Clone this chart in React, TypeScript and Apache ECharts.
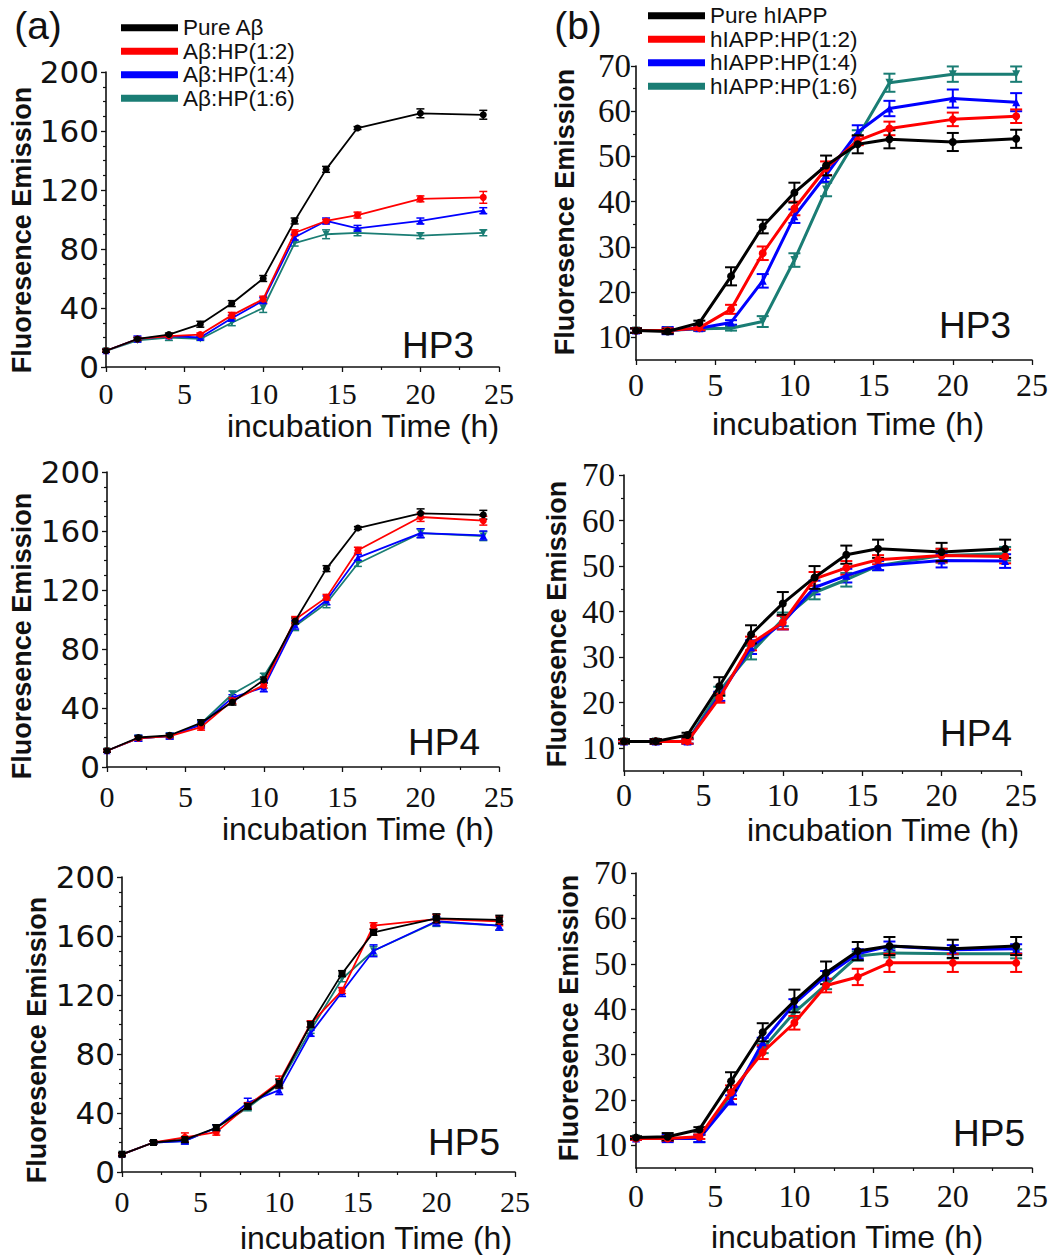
import React, { useEffect, useRef } from 'react';
import * as echarts from 'echarts';

// ---------- data ----------
const times = [0, 2, 4, 6, 8, 10, 12, 14, 16, 20, 24];
const abNames = ['Pure Aβ', 'Aβ:HP(1:2)', 'Aβ:HP(1:4)', 'Aβ:HP(1:6)'];
const iappNames = ['Pure hIAPP', 'hIAPP:HP(1:2)', 'hIAPP:HP(1:4)', 'hIAPP:HP(1:6)'];
const panelLabels = ['HP3', 'HP3', 'HP4', 'HP4', 'HP5', 'HP5'];
const abYTicks = [0, 40, 80, 120, 160, 200];
const iappYTicks = [10, 20, 30, 40, 50, 60, 70];
const iappYMinorTicks = [15, 25, 35, 45, 55, 65];

// (a) Aβ, HP3
const abHP3Pure = [11, 19, 22, 29, 43, 60, 99, 134, 162, 172, 171];
const abHP3R2 = [11, 19, 21, 22, 35, 46, 91, 99, 103, 114, 115];
const abHP3R4 = [11, 19, 21, 20, 33, 45, 88, 99, 94, 99, 106];
const abHP3R6 = [11, 18, 20, 19, 30, 40, 84, 90, 91, 89, 91];
const abHP3PureErr = [1, 1, 1, 2, 2, 2, 2, 2, 1, 3, 3];
const abHP3R2Err = [1, 1, 1, 1, 2, 2, 2, 1, 2, 2, 4];
const abHP3R4Err = [1, 2, 1, 1, 2, 2, 2, 2, 2, 2, 2];
const abHP3R6Err = [1, 1, 2, 1, 2, 3, 2, 3, 2, 2, 2];

// (b) hIAPP, HP3
const iappHP3Pure = [11.5, 11.3, 13.2, 23.5, 34.5, 42, 48, 52.7, 53.8, 53.2, 53.9];
const iappHP3R2 = [11.5, 11.5, 12.1, 16.2, 28.6, 38.5, 47.4, 53.5, 56.2, 58.2, 58.9];
const iappHP3R4 = [11.5, 11.5, 12, 13.3, 22.5, 36.8, 45.9, 55.4, 60.6, 62.8, 62];
const iappHP3R6 = [11.5, 11.5, 11.9, 12, 13.5, 27.1, 42.7, 54.3, 66.3, 68.2, 68.2];
const iappHP3PureErr = [0.5, 0.5, 0.5, 2, 1.5, 2.2, 2.2, 2, 2, 2, 2];
const iappHP3R2Err = [0.5, 0.5, 0.5, 1, 1.5, 1.5, 1.5, 1, 1.5, 1.5, 1.5];
const iappHP3R4Err = [0.5, 0.8, 0.5, 0.5, 1.5, 1.5, 1.5, 1.5, 1.7, 2, 2];
const iappHP3R6Err = [0.5, 0.5, 0.5, 0.5, 1.2, 1.5, 1.5, 1.5, 2, 1.7, 1.7];

// (a) Aβ, HP4
const abHP4Pure = [11, 20, 21.5, 30, 44, 59, 99, 134.5, 162, 172, 171];
const abHP4R2 = [11, 19.5, 21, 27, 45, 55.5, 100, 115, 147, 169.5, 167];
const abHP4R4 = [11, 19.5, 21, 28.5, 47, 54, 96.5, 113, 142, 158.5, 157];
const abHP4R6 = [11, 19.5, 21, 29.5, 49.5, 61.5, 95.5, 111, 138, 158.5, 156.5];
const abHP4PureErr = [1, 1, 1, 2, 2, 2, 2, 2, 1, 3, 3];
const abHP4R2Err = [1, 1, 1, 2, 2, 2, 2, 2, 2, 3, 3];
const abHP4R4Err = [1, 2, 2, 2, 2, 3, 3, 3, 2, 3, 3];
const abHP4R6Err = [1, 2, 2, 2, 2, 2, 3, 3, 2, 3, 3];

// (b) hIAPP, HP4
const iappHP4Pure = [11.5, 11.5, 12.9, 23.6, 35, 41.8, 47.5, 52.5, 53.8, 53.1, 53.8];
const iappHP4R2 = [11.5, 11.5, 11.5, 21, 33, 37.6, 47.2, 49.6, 51.4, 52.3, 52.1];
const iappHP4R4 = [11.5, 11.5, 11.5, 21.4, 32.2, 37.6, 45.3, 47.9, 50.1, 51.2, 51.1];
const iappHP4R6 = [11.5, 11.5, 11.5, 22.5, 31, 38.3, 44.2, 47, 50.1, 52.3, 52.7];
const iappHP4PureErr = [0.5, 0.5, 0.5, 2, 2, 2.5, 2.5, 2, 2, 2, 2];
const iappHP4R2Err = [0.3, 0.5, 0.5, 1, 1.5, 1.5, 1.5, 1.5, 1, 1.5, 1.5];
const iappHP4R4Err = [0.3, 0.5, 0.5, 1, 1.5, 1.5, 1.5, 1.5, 1, 1.5, 1.5];
const iappHP4R6Err = [0.3, 0.5, 0.5, 1, 1.5, 1.5, 1.5, 1.5, 1, 1.5, 1.5];

// (a) Aβ, HP5
const abHP5Pure = [12, 20, 22, 30, 44.5, 60, 100, 134.5, 162.5, 172, 171];
const abHP5R2 = [12, 20, 23.5, 27, 45, 61, 100.5, 123, 167, 171.5, 170];
const abHP5R4 = [12, 20, 21, 30, 47, 55.5, 94, 122, 150, 170, 167];
const abHP5R6 = [12, 20, 21, 30, 43.5, 59.5, 96, 131, 150, 169.5, 167];
const abHP5PureErr = [1, 1, 2, 2, 2, 3, 2, 2, 2, 3, 3];
const abHP5R2Err = [1, 1, 3, 2, 2, 4, 2, 2, 2, 3, 3];
const abHP5R4Err = [1, 1, 2, 2, 3, 3, 2, 3, 4, 3, 3];
const abHP5R6Err = [1, 1, 2, 2, 2, 3, 2, 2, 3, 3, 3];

// (b) hIAPP, HP5
const iappHP5Pure = [11.7, 11.9, 13.5, 24.1, 34.9, 41.8, 48, 52.8, 53.9, 53.3, 53.9];
const iappHP5R2 = [11.5, 11.5, 11.9, 21.7, 30.5, 37, 45.2, 47.1, 50.2, 50.2, 50.2];
const iappHP5R4 = [11.5, 11.5, 11.5, 20, 32.7, 41.2, 47.4, 52.2, 53.9, 53.1, 53.3];
const iappHP5R6 = [11.5, 11.5, 11.5, 21.2, 31.3, 39.3, 45.4, 51.7, 52.4, 52.2, 52.2];
const iappHP5PureErr = [0.3, 0.8, 0.5, 2, 2, 2.5, 2.5, 2, 2, 2, 2];
const iappHP5R2Err = [0.3, 0.5, 0.5, 1.5, 1.5, 1.5, 1.5, 1.8, 2, 2, 2];
const iappHP5R4Err = [0.3, 0.8, 0.8, 1, 1, 1, 1, 1, 1, 1, 1];
const iappHP5R6Err = [0.3, 0.5, 0.8, 1, 1, 1.2, 1, 1, 1, 1, 1];

// ---------- style / layout ----------
const COLORS = ['#000000', '#ff0000', '#0000ff', '#1a7d74'];
const INV_TRI = 'path://M0,0L10,0L5,9Z';
const SERIF = '"Liberation Serif", "Times New Roman", serif';
const SANS = '"Liberation Sans", Arial, sans-serif';

type Panel = {
  kind: 'ab' | 'iapp';
  grid: { left: number; top: number; width: number; height: number };
  series: number[][];
  errs: number[][];
  symbols: string[];
  yLabelMargin: number;
  xLabelMargin: number;
  label: [number, number];
  xTitle: [number, number];
  yTitle: [number, number];
};

const panels: Panel[] = [
  {
    kind: 'ab', grid: { left: 106, top: 72, width: 393, height: 295 },
    series: [abHP3Pure, abHP3R2, abHP3R4, abHP3R6],
    errs: [abHP3PureErr, abHP3R2Err, abHP3R4Err, abHP3R6Err],
    symbols: ['circle', 'circle', 'triangle', INV_TRI],
    yLabelMargin: 7, xLabelMargin: 11, label: [438, 345], xTitle: [363, 426], yTitle: [22, 230],
  },
  {
    kind: 'iapp', grid: { left: 636, top: 66, width: 396, height: 294 },
    series: [iappHP3Pure, iappHP3R2, iappHP3R4, iappHP3R6],
    errs: [iappHP3PureErr, iappHP3R2Err, iappHP3R4Err, iappHP3R6Err],
    symbols: ['circle', 'circle', 'triangle', INV_TRI],
    yLabelMargin: 5, xLabelMargin: 9, label: [975, 325], xTitle: [848, 424], yTitle: [565, 212],
  },
  {
    kind: 'ab', grid: { left: 107, top: 472, width: 392, height: 295 },
    series: [abHP4Pure, abHP4R2, abHP4R4, abHP4R6],
    errs: [abHP4PureErr, abHP4R2Err, abHP4R4Err, abHP4R6Err],
    symbols: ['circle', 'circle', 'triangle', INV_TRI],
    yLabelMargin: 7, xLabelMargin: 14, label: [444, 742], xTitle: [358, 829], yTitle: [22, 636],
  },
  {
    kind: 'iapp', grid: { left: 624, top: 475, width: 397, height: 296 },
    series: [iappHP4Pure, iappHP4R2, iappHP4R4, iappHP4R6],
    errs: [iappHP4PureErr, iappHP4R2Err, iappHP4R4Err, iappHP4R6Err],
    symbols: ['circle', 'circle', 'triangle', INV_TRI],
    yLabelMargin: 9, xLabelMargin: 8, label: [976, 733], xTitle: [883, 830], yTitle: [557, 624],
  },
  {
    kind: 'ab', grid: { left: 122, top: 877, width: 393, height: 295 },
    series: [abHP5Pure, abHP5R2, abHP5R4, abHP5R6],
    errs: [abHP5PureErr, abHP5R2Err, abHP5R4Err, abHP5R6Err],
    symbols: ['rect', 'circle', 'triangle', INV_TRI],
    yLabelMargin: 7, xLabelMargin: 14, label: [464, 1142], xTitle: [376, 1238], yTitle: [37, 1040],
  },
  {
    kind: 'iapp', grid: { left: 636, top: 873, width: 396, height: 295 },
    series: [iappHP5Pure, iappHP5R2, iappHP5R4, iappHP5R6],
    errs: [iappHP5PureErr, iappHP5R2Err, iappHP5R4Err, iappHP5R6Err],
    symbols: ['circle', 'circle', 'triangle', INV_TRI],
    yLabelMargin: 9, xLabelMargin: 12, label: [989, 1133], xTitle: [847, 1237], yTitle: [569, 1018],
  },
];

function buildOption() {
  const grid: any[] = [];
  const xAxis: any[] = [];
  const yAxis: any[] = [];
  const series: any[] = [];
  const graphic: any[] = [];

  panels.forEach((p, i) => {
    const isAb = p.kind === 'ab';
    const names = isAb ? abNames : iappNames;
    grid.push({ ...p.grid, containLabel: false });
    const axisLine = { show: true, lineStyle: { color: '#111', width: 1.6 } };
    xAxis.push({
      type: 'value', gridIndex: i, min: 0, max: 25, interval: 5,
      axisLine, splitLine: { show: false },
      axisTick: { show: true, length: 5, lineStyle: { color: '#111', width: 1.3 } },
      minorTick: { show: true, splitNumber: 2, length: 3, lineStyle: { color: '#111', width: 1.2 } },
      axisLabel: {
        margin: p.xLabelMargin, color: '#111',
        fontFamily: SERIF, fontSize: isAb ? 30 : 32,
      },
    });
    const yIdx = yAxis.length;
    if (isAb) {
      yAxis.push({
        type: 'value', gridIndex: i, min: 0, max: 200, interval: 40,
        axisLine, splitLine: { show: false },
        axisTick: { show: true, length: 5, lineStyle: { color: '#111', width: 1.3 } },
        minorTick: { show: true, splitNumber: 4, length: 3, lineStyle: { color: '#111', width: 1.2 } },
        axisLabel: {
          margin: p.yLabelMargin, color: '#111',
          fontFamily: '"DejaVu Sans", sans-serif', fontSize: 31,
          customValues: abYTicks,
        },
      });
    } else {
      yAxis.push({
        type: 'value', gridIndex: i, min: 5, max: 70, interval: 5,
        axisLine, splitLine: { show: false },
        axisTick: { show: true, length: 5, customValues: iappYTicks, lineStyle: { color: '#111', width: 1.3 } },
        axisLabel: {
          margin: p.yLabelMargin, color: '#111',
          fontFamily: SERIF, fontSize: 33,
          customValues: iappYTicks,
          formatter: (v: number) => (v % 10 === 0 ? String(v) : ''),
        },
      });
      // minor ticks overlay
      yAxis.push({
        type: 'value', gridIndex: i, min: 5, max: 70, interval: 5, position: 'left',
        axisLine: { show: false }, splitLine: { show: false },
        axisTick: { show: true, length: 3, customValues: iappYMinorTicks, lineStyle: { color: '#111', width: 1.2 } },
        axisLabel: { show: false },
      });
    }

    const lw = isAb ? 1.8 : 3;
    const sz = isAb ? 7 : 8;
    const order = [3, 2, 1, 0];
    order.forEach((k) => {
      const color = COLORS[k];
      series.push({
        type: 'custom', xAxisIndex: i, yAxisIndex: yIdx, silent: true, z: 2 + (3 - k),
        data: times.map((t, j) => [t, p.series[k][j], p.errs[k][j]]),
        encode: { x: 0, y: 1 },
        renderItem: (params: any, api: any) => {
          const x = api.value(0);
          const y = api.value(1);
          const e = api.value(2);
          const top = api.coord([x, y + e]);
          const bot = api.coord([x, y - e]);
          const hw = isAb ? 4 : 6;
          const st = { stroke: color, lineWidth: isAb ? 1.5 : 2 };
          return {
            type: 'group',
            children: [
              { type: 'line', shape: { x1: top[0], y1: top[1], x2: bot[0], y2: bot[1] }, style: st },
              { type: 'line', shape: { x1: top[0] - hw, y1: top[1], x2: top[0] + hw, y2: top[1] }, style: st },
              { type: 'line', shape: { x1: bot[0] - hw, y1: bot[1], x2: bot[0] + hw, y2: bot[1] }, style: st },
            ],
          };
        },
      });
      series.push({
        type: 'line', name: names[k], xAxisIndex: i, yAxisIndex: yIdx,
        data: times.map((t, j) => [t, p.series[k][j]]),
        z: 3 + (3 - k),
        color,
        symbol: p.symbols[k], symbolSize: sz, showSymbol: true,
        lineStyle: { color, width: lw },
        itemStyle: { color },
      });
    });

    graphic.push({
      type: 'text', x: p.label[0], y: p.label[1],
      style: {
        text: panelLabels[i], fill: '#111', font: '37px ' + SANS,
        textAlign: 'center', textVerticalAlign: 'middle',
      },
    });
    graphic.push({
      type: 'text', x: p.xTitle[0], y: p.xTitle[1],
      style: {
        text: 'incubation Time (h)', fill: '#111', font: '32px ' + SANS,
        textAlign: 'center', textVerticalAlign: 'middle',
      },
    });
    graphic.push({
      type: 'text', x: p.yTitle[0], y: p.yTitle[1], rotation: Math.PI / 2,
      style: {
        text: 'Fluoresence Emission', fill: '#111', font: 'bold 27px ' + SANS,
        textAlign: 'center', textVerticalAlign: 'middle',
      },
    });
  });

  graphic.push({
    type: 'text', x: 38, y: 25,
    style: { text: '(a)', fill: '#111', font: '39px ' + SANS, textAlign: 'center', textVerticalAlign: 'middle' },
  });
  graphic.push({
    type: 'text', x: 578, y: 25,
    style: { text: '(b)', fill: '#111', font: '39px ' + SANS, textAlign: 'center', textVerticalAlign: 'middle' },
  });

  const legendCommon = {
    orient: 'vertical', icon: 'rect', itemWidth: 57, itemHeight: 7, itemGap: 0,
    selectedMode: false,
    textStyle: { fontFamily: SANS, fontSize: 22.5, color: '#111', lineHeight: 23.5 },
  };

  return {
    animation: false,
    backgroundColor: '#ffffff',
    grid, xAxis, yAxis, series, graphic,
    legend: [
      { ...legendCommon, left: 116, top: 11, data: abNames },
      { ...legendCommon, left: 643, top: -1, data: iappNames },
    ],
  };
}

export default function App() {
  const ref = useRef<HTMLDivElement>(null);
  useEffect(() => {
    document.body.style.margin = '0';
    if (!ref.current) return;
    const chart = echarts.init(ref.current, undefined, { renderer: 'svg' });
    chart.setOption(buildOption() as any);
    return () => chart.dispose();
  }, []);
  return <div ref={ref} style={{ width: 1056, height: 1255 }} />;
}
